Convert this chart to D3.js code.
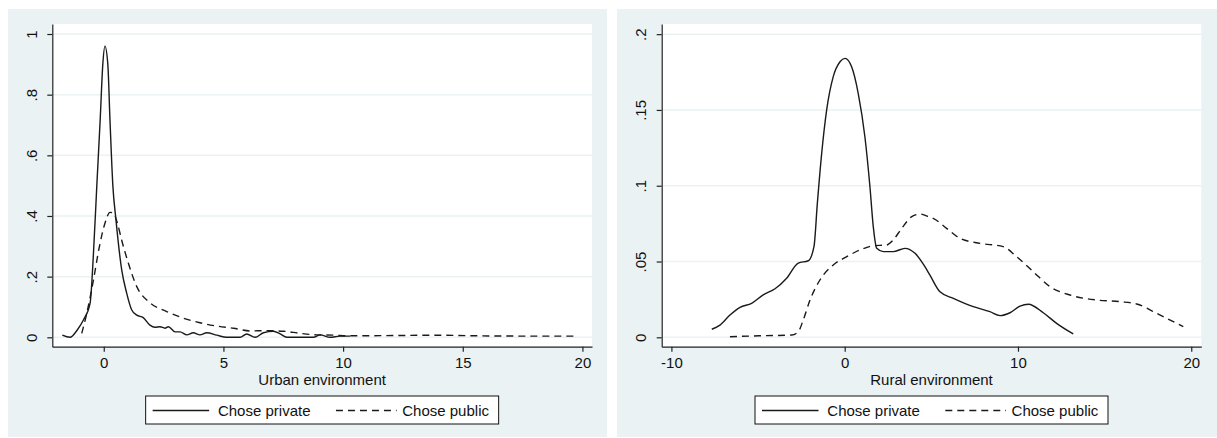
<!DOCTYPE html>
<html lang="en">
<head>
<meta charset="UTF-8">
<title>Kernel densities</title>
<script src="https://d3js.org/d3.v7.min.js"></script>
<style>
  body { margin: 0; background: #fff; }
  text { font-family: "Liberation Sans", Arial, sans-serif; font-size: 15px; fill: #111; }
  .grid { stroke: #eaf2f3; stroke-width: 1.5; }
  .axis path, .axis line { stroke: #222; stroke-width: 1.2; }
  .curve { fill: none; stroke: #1a1a1a; stroke-width: 1.4; }
  .dash { stroke-dasharray: 7 5; }
</style>
</head>
<body>
<svg id="main" width="1217" height="438"></svg>
<script>
// urban panel
const urbanPrivateX = [-1.73,-1.41,-1.1,-0.85,-0.57,-0.43,-0.29,-0.15,-0.04,0.05,0.17,0.26,0.38,0.51,0.75,0.96,1.17,1.38,1.65,1.93,2.14,2.35,2.56,2.70,2.98,3.19,3.47,3.74,4.02,4.30,4.72,5.14,5.70,5.97,6.32,6.67,7.09,7.37,7.65,8.76,9.04,9.46,9.87,10.3];
const urbanPrivateY = [0.007,0.0,0.025,0.057,0.113,0.277,0.50,0.716,0.90,0.96,0.90,0.716,0.50,0.387,0.222,0.145,0.09,0.073,0.065,0.04,0.033,0.035,0.03,0.035,0.018,0.018,0.008,0.015,0.008,0.015,0.007,0.0,0.0,0.011,0.0,0.015,0.02,0.011,0.0,0.0,0.008,0.0,0.004,0.004];
const urbanPublicX = [-0.92,-0.71,-0.43,-0.18,0.05,0.26,0.40,0.57,0.75,1.03,1.38,1.93,2.63,3.33,4.02,4.72,5.42,6.11,6.81,7.51,8.20,8.90,9.59,10.29,12.38,13.8,15.5,17.5,19.8];
const urbanPublicY = [0.013,0.079,0.189,0.30,0.376,0.412,0.409,0.376,0.32,0.244,0.167,0.114,0.085,0.063,0.048,0.037,0.03,0.021,0.022,0.02,0.013,0.008,0.007,0.005,0.006,0.007,0.005,0.004,0.004];
const urbanXTicks = [0, 5, 10, 15, 20];
const urbanYTicks = [0, 0.2, 0.4, 0.6, 0.8, 1];

// rural panel
const ruralPrivateX = [-7.67,-7.2,-6.62,-6.04,-5.37,-4.7,-4.02,-3.35,-2.68,-2.1,-1.77,-1.58,-1.33,-1.04,-0.66,-0.27,0.02,0.4,0.78,1.17,1.46,1.65,1.85,2.23,2.8,3.48,4.06,4.63,4.92,5.5,6.27,7.42,8.38,8.96,9.54,10.12,10.6,11.46,12.23,13.19];
const ruralPrivateY = [0.0053,0.008,0.0147,0.0198,0.0224,0.028,0.032,0.039,0.049,0.0505,0.06,0.088,0.121,0.15,0.172,0.1818,0.184,0.1785,0.161,0.132,0.099,0.073,0.0587,0.0565,0.0565,0.0587,0.0554,0.0466,0.041,0.030,0.0257,0.0202,0.0169,0.0143,0.0162,0.0206,0.0218,0.0162,0.0092,0.0022];
const ruralPublicX = [-6.62,-4.89,-3.06,-2.68,-2.39,-2.0,-1.43,-0.66,0.12,0.88,1.65,2.42,2.8,3.29,3.87,4.35,4.83,5.11,5.88,6.65,7.81,9.15,9.92,10.88,11.85,13.0,14.54,15.89,16.85,18.0,19.54];
const ruralPublicY = [0.0004,0.001,0.0015,0.0037,0.0114,0.0246,0.0378,0.0477,0.0532,0.0576,0.0604,0.0609,0.0642,0.0719,0.0796,0.0813,0.0796,0.0785,0.0719,0.0653,0.062,0.0598,0.0532,0.0433,0.0334,0.0279,0.0246,0.0235,0.022,0.0158,0.007];
const ruralXTicks = [-10, 0, 10, 20];
const ruralYTicks = [0, 0.05, 0.1, 0.15, 0.2];

const legendLabels = ['Chose private', 'Chose public'];

let svg = d3.select('#main');

function fmt(d) {
    if (d === 0) return '0';
    return String(d).replace(/^0\./, '.');
}

function panel(opt) {
    let g = svg.append('g');
    g.append('rect')
        .attr('x', opt.bg[0]).attr('y', 9)
        .attr('width', opt.bg[1] - opt.bg[0]).attr('height', 428)
        .attr('fill', '#eaf2f3');

    let top = 24, bottom = 346.7;
    let xScale = d3.scaleLinear().domain(opt.xDomain).range([opt.left, opt.right]);
    let yScale = d3.scaleLinear().domain(opt.yDomain).range([bottom, top]);

    g.append('rect')
        .attr('x', opt.left).attr('y', top)
        .attr('width', opt.right - opt.left).attr('height', bottom - top)
        .attr('fill', '#fff');

    g.selectAll('.grid')
        .data(opt.yTicks)
        .enter()
        .append('line')
        .attr('class', 'grid')
        .attr('x1', opt.left).attr('x2', opt.right)
        .attr('y1', d => yScale(d)).attr('y2', d => yScale(d));

    let line = d3.line()
        .x(d => xScale(d[0]))
        .y(d => yScale(d[1]))
        .curve(d3.curveMonotoneX);

    g.append('path')
        .attr('class', 'curve')
        .attr('d', line(d3.zip(opt.privX, opt.privY)));
    g.append('path')
        .attr('class', 'curve dash')
        .attr('d', line(d3.zip(opt.pubX, opt.pubY)));

    let xAxis = g.append('g')
        .attr('class', 'axis')
        .attr('transform', `translate(0,${bottom})`)
        .call(d3.axisBottom(xScale).tickValues(opt.xTicks).tickFormat(fmt).tickSize(5).tickSizeOuter(0));
    xAxis.selectAll('text').attr('y', 21).attr('dy', 0);

    let yAxis = g.append('g')
        .attr('class', 'axis')
        .attr('transform', `translate(${opt.left},0)`)
        .call(d3.axisLeft(yScale).tickValues(opt.yTicks).tickFormat(fmt).tickSize(5).tickSizeOuter(0));
    yAxis.selectAll('text')
        .attr('x', 0).attr('y', -15.3).attr('dy', 0)
        .attr('transform', 'rotate(-90)')
        .attr('text-anchor', 'middle');
    g.selectAll('.axis text').attr('fill', '#111').attr('font-size', 15)
        .attr('font-family', '"Liberation Sans", Arial, sans-serif');

    let cx = (opt.left + opt.right) / 2;
    g.append('text')
        .attr('x', cx).attr('y', 384.5)
        .attr('text-anchor', 'middle')
        .text(opt.title);

    // legend
    let lx = cx - 176.5;
    g.append('rect')
        .attr('x', lx).attr('y', 396)
        .attr('width', 353).attr('height', 28)
        .attr('fill', '#fff').attr('stroke', '#111').attr('stroke-width', 1);
    g.append('line').attr('class', 'curve')
        .attr('x1', lx + 7).attr('x2', lx + 63.5)
        .attr('y1', 410.5).attr('y2', 410.5);
    g.append('text').attr('x', lx + 72.3).attr('y', 416).text(legendLabels[0]);
    g.append('line').attr('class', 'curve dash')
        .attr('x1', lx + 190.3).attr('x2', lx + 251)
        .attr('y1', 410.5).attr('y2', 410.5);
    g.append('text').attr('x', lx + 256.6).attr('y', 416).text(legendLabels[1]);
}

panel({
    bg: [8, 607], left: 52.3, right: 592,
    xDomain: [-2.15, 20.4], yDomain: [-0.031, 1.033],
    xTicks: urbanXTicks, yTicks: urbanYTicks,
    privX: urbanPrivateX, privY: urbanPrivateY,
    pubX: urbanPublicX, pubY: urbanPublicY,
    title: 'Urban environment'
});
panel({
    bg: [617, 1217], left: 661.7, right: 1201.3,
    xDomain: [-10.56, 20.58], yDomain: [-0.0062, 0.2067],
    xTicks: ruralXTicks, yTicks: ruralYTicks,
    privX: ruralPrivateX, privY: ruralPrivateY,
    pubX: ruralPublicX, pubY: ruralPublicY,
    title: 'Rural environment'
});
</script>
</body>
</html>
